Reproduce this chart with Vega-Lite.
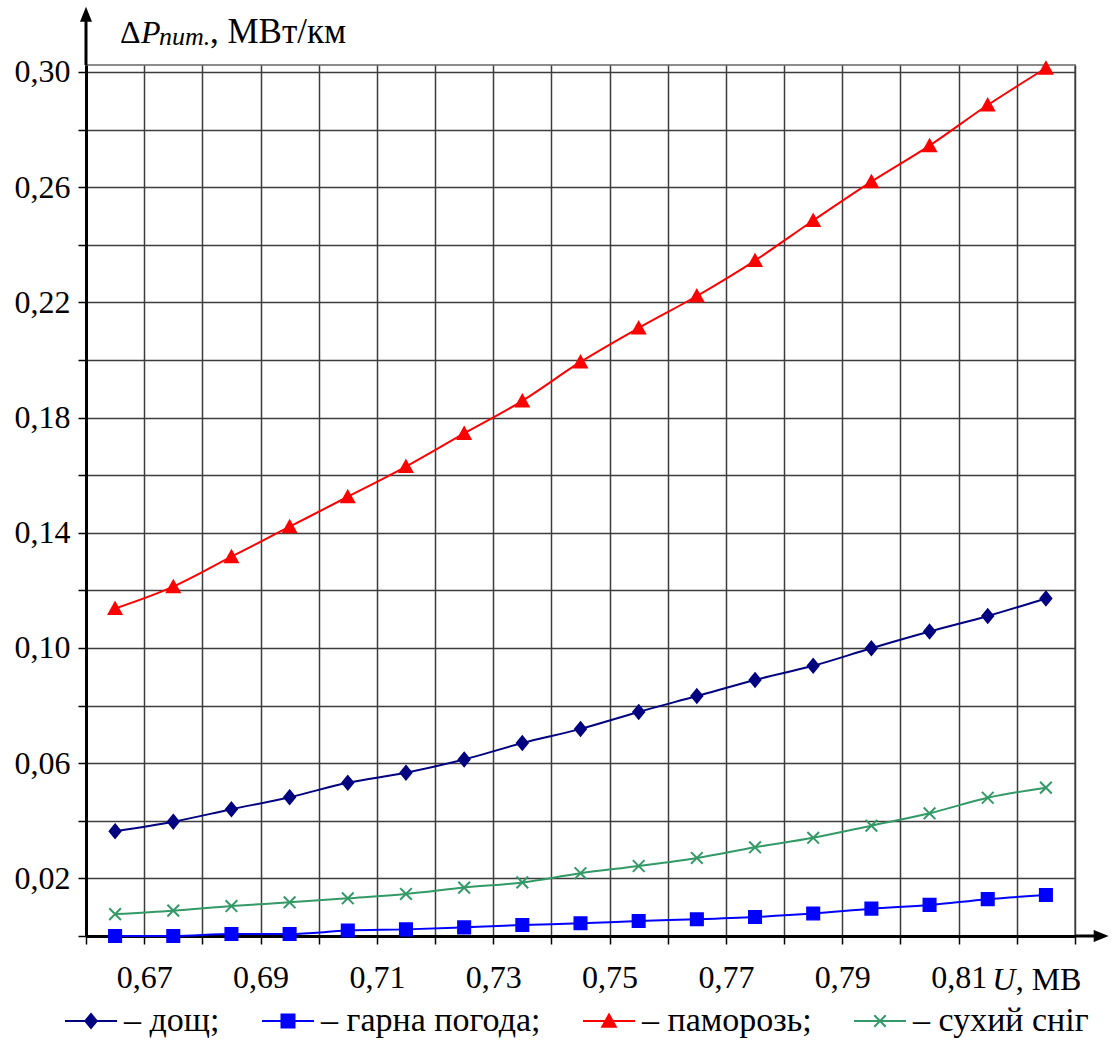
{
  "$schema": "https://vega.github.io/schema/vega-lite/v6.json",
  "width": 989,
  "height": 871,
  "autosize": {"type": "none"},
  "padding": {"left": 86, "top": 65, "right": 38, "bottom": 107},
  "background": "white",
  "config": {
    "view": {"stroke": "#8c8c8c", "strokeWidth": 2},
    "font": "Liberation Serif",
    "axis": {"labelFont": "Liberation Serif", "labelColor": "black"},
    "legend": {"labelFont": "Liberation Serif", "labelColor": "black"}
  },
  "datasets": {
    "series": [
      {"U": 0.665, "P": 0.0364, "series": "дощ"},
      {"U": 0.675, "P": 0.0397, "series": "дощ"},
      {"U": 0.685, "P": 0.0440, "series": "дощ"},
      {"U": 0.695, "P": 0.0482, "series": "дощ"},
      {"U": 0.705, "P": 0.0532, "series": "дощ"},
      {"U": 0.715, "P": 0.0567, "series": "дощ"},
      {"U": 0.725, "P": 0.0613, "series": "дощ"},
      {"U": 0.735, "P": 0.0670, "series": "дощ"},
      {"U": 0.745, "P": 0.0719, "series": "дощ"},
      {"U": 0.755, "P": 0.0778, "series": "дощ"},
      {"U": 0.765, "P": 0.0833, "series": "дощ"},
      {"U": 0.775, "P": 0.0889, "series": "дощ"},
      {"U": 0.785, "P": 0.0938, "series": "дощ"},
      {"U": 0.795, "P": 0.0999, "series": "дощ"},
      {"U": 0.805, "P": 0.1057, "series": "дощ"},
      {"U": 0.815, "P": 0.1111, "series": "дощ"},
      {"U": 0.825, "P": 0.1172, "series": "дощ"},
      {"U": 0.665, "P": 0.0000, "series": "гарна погода"},
      {"U": 0.675, "P": 0.0000, "series": "гарна погода"},
      {"U": 0.685, "P": 0.0007, "series": "гарна погода"},
      {"U": 0.695, "P": 0.0007, "series": "гарна погода"},
      {"U": 0.705, "P": 0.0019, "series": "гарна погода"},
      {"U": 0.715, "P": 0.0023, "series": "гарна погода"},
      {"U": 0.725, "P": 0.0030, "series": "гарна погода"},
      {"U": 0.735, "P": 0.0038, "series": "гарна погода"},
      {"U": 0.745, "P": 0.0044, "series": "гарна погода"},
      {"U": 0.755, "P": 0.0052, "series": "гарна погода"},
      {"U": 0.765, "P": 0.0058, "series": "гарна погода"},
      {"U": 0.775, "P": 0.0066, "series": "гарна погода"},
      {"U": 0.785, "P": 0.0078, "series": "гарна погода"},
      {"U": 0.795, "P": 0.0095, "series": "гарна погода"},
      {"U": 0.805, "P": 0.0108, "series": "гарна погода"},
      {"U": 0.815, "P": 0.0128, "series": "гарна погода"},
      {"U": 0.825, "P": 0.0142, "series": "гарна погода"},
      {"U": 0.665, "P": 0.1137, "series": "паморозь"},
      {"U": 0.675, "P": 0.1213, "series": "паморозь"},
      {"U": 0.685, "P": 0.1317, "series": "паморозь"},
      {"U": 0.695, "P": 0.1421, "series": "паморозь"},
      {"U": 0.705, "P": 0.1525, "series": "паморозь"},
      {"U": 0.715, "P": 0.1630, "series": "паморозь"},
      {"U": 0.725, "P": 0.1745, "series": "паморозь"},
      {"U": 0.735, "P": 0.1858, "series": "паморозь"},
      {"U": 0.745, "P": 0.1993, "series": "паморозь"},
      {"U": 0.755, "P": 0.2111, "series": "паморозь"},
      {"U": 0.765, "P": 0.2222, "series": "паморозь"},
      {"U": 0.775, "P": 0.2345, "series": "паморозь"},
      {"U": 0.785, "P": 0.2484, "series": "паморозь"},
      {"U": 0.795, "P": 0.2619, "series": "паморозь"},
      {"U": 0.805, "P": 0.2744, "series": "паморозь"},
      {"U": 0.815, "P": 0.2885, "series": "паморозь"},
      {"U": 0.825, "P": 0.3013, "series": "паморозь"},
      {"U": 0.665, "P": 0.0076, "series": "сухий сніг"},
      {"U": 0.675, "P": 0.0088, "series": "сухий сніг"},
      {"U": 0.685, "P": 0.0104, "series": "сухий сніг"},
      {"U": 0.695, "P": 0.0117, "series": "сухий сніг"},
      {"U": 0.705, "P": 0.0131, "series": "сухий сніг"},
      {"U": 0.715, "P": 0.0146, "series": "сухий сніг"},
      {"U": 0.725, "P": 0.0168, "series": "сухий сніг"},
      {"U": 0.735, "P": 0.0186, "series": "сухий сніг"},
      {"U": 0.745, "P": 0.0218, "series": "сухий сніг"},
      {"U": 0.755, "P": 0.0243, "series": "сухий сніг"},
      {"U": 0.765, "P": 0.0271, "series": "сухий сніг"},
      {"U": 0.775, "P": 0.0308, "series": "сухий сніг"},
      {"U": 0.785, "P": 0.0341, "series": "сухий сніг"},
      {"U": 0.795, "P": 0.0383, "series": "сухий сніг"},
      {"U": 0.805, "P": 0.0426, "series": "сухий сніг"},
      {"U": 0.815, "P": 0.0480, "series": "сухий сніг"},
      {"U": 0.825, "P": 0.0515, "series": "сухий сніг"}
    ]
  },
  "encoding": {
    "x": {
      "type": "quantitative", "title": null,
      "scale": {"domain": [0.66, 0.83], "nice": false, "zero": false},
      "axis": {
        "values": [0.66, 0.67, 0.68, 0.69, 0.70, 0.71, 0.72, 0.73, 0.74, 0.75, 0.76, 0.77, 0.78, 0.79, 0.80, 0.81, 0.82, 0.83],
        "grid": true,
        "gridColor": "#3c3c3c",
        "gridWidth": 1.5,
        "domainColor": "black", "domainWidth": 3,
        "tickColor": "black", "tickWidth": 1.5, "tickSize": 8,
        "labelExpr": "(round(datum.value*100) % 2 == 1 && datum.value < 0.825) ? replace(format(datum.value, '.2f'), '.', ',') : ''",
        "labelFont": "Liberation Serif", "labelFontSize": 32, "labelPadding": 18, "labelFlush": false, "labelOverlap": false,
        "title": null
      }
    },
    "y": {
      "type": "quantitative", "title": null,
      "scale": {"domain": [0, 0.3024], "nice": false, "zero": false},
      "axis": {
        "values": [0, 0.02, 0.04, 0.06, 0.08, 0.10, 0.12, 0.14, 0.16, 0.18, 0.20, 0.22, 0.24, 0.26, 0.28, 0.30],
        "grid": true, "gridColor": "#3c3c3c", "gridWidth": 1.5,
        "domainColor": "black", "domainWidth": 3,
        "tickColor": "black", "tickWidth": 1.5, "tickSize": 8,
        "labelExpr": "round(datum.value*100) % 4 == 2 ? replace(format(datum.value, '.2f'), '.', ',') : ''",
        "labelFont": "Liberation Serif", "labelFontSize": 32, "labelPadding": 8, "labelFlush": false, "labelOverlap": false,
        "title": null
      }
    }
  },
  "layer": [
    {
      "data": {"name": "series"},
      "mark": {"type": "line", "strokeWidth": 2, "interpolate": "monotone"},
      "encoding": {
        "x": {"field": "U"},
        "y": {"field": "P"},
        "color": {
          "field": "series", "type": "nominal",
          "scale": {"domain": ["дощ", "гарна погода", "паморозь", "сухий сніг"], "range": ["#000080", "#0000ff", "#ff0000", "#339966"]},
          "legend": {
            "orient": "none", "legendX": -22, "legendY": 929,
            "direction": "horizontal", "columns": 4, "title": null, "padding": 0,
            "labelFont": "Liberation Serif", "labelFontSize": 34, "labelColor": "black", "labelLimit": 500,
            "labelOffset": 6, "columnPadding": 38,
            "symbolSize": 2704, "symbolStrokeWidth": 2,
            "labelExpr": "datum.label == 'сухий сніг' ? '– сухий сніг' : '– ' + datum.label + ';'",
            "encode": {
              "symbols": {
                "update": {
                  "shape": {"signal": "datum.value == 'дощ' ? 'M-1,0H1M0,-0.27L0.22,0L0,0.27L-0.22,0Z' : datum.value == 'гарна погода' ? 'M-1,0H1M-0.25,-0.25H0.25V0.25H-0.25Z' : datum.value == 'паморозь' ? 'M-1,0H1M0,-0.25L0.26,0.22L-0.26,0.22Z' : 'M-1,0H1M-0.22,-0.22L0.22,0.22M-0.22,0.22L0.22,-0.22'"},
                  "fill": {"signal": "datum.value == 'дощ' ? '#000080' : datum.value == 'гарна погода' ? '#0000ff' : datum.value == 'паморозь' ? '#ff0000' : '#339966'"},
                  "stroke": {"signal": "datum.value == 'дощ' ? '#000080' : datum.value == 'гарна погода' ? '#0000ff' : datum.value == 'паморозь' ? '#ff0000' : '#339966'"},
                  "strokeWidth": {"value": 2},
                  "size": {"value": 2704},
                  "opacity": {"value": 1}
                }
              }
            }
          }
        }
      }
    },
    {
      "data": {"name": "series"},
      "transform": [{"filter": "datum.series == 'дощ'"}],
      "mark": {"type": "point", "shape": "M0,-1.1L0.9,0L0,1.1L-0.9,0Z", "filled": true, "color": "#000080", "stroke": "#000080", "size": 169, "strokeWidth": 1.4, "opacity": 1},
      "encoding": {"x": {"field": "U"}, "y": {"field": "P"}}
    },
    {
      "data": {"name": "series"},
      "transform": [{"filter": "datum.series == 'гарна погода'"}],
      "mark": {"type": "point", "shape": "M-1,-1H1V1H-1Z", "filled": true, "color": "#0000ff", "stroke": "#0000ff", "size": 160, "strokeWidth": 1.4, "opacity": 1},
      "encoding": {"x": {"field": "U"}, "y": {"field": "P"}}
    },
    {
      "data": {"name": "series"},
      "transform": [{"filter": "datum.series == 'паморозь'"}],
      "mark": {"type": "point", "shape": "M0,-1L1.05,0.9L-1.05,0.9Z", "filled": true, "color": "#ff0000", "stroke": "#ff0000", "size": 169, "strokeWidth": 1.4, "opacity": 1},
      "encoding": {"x": {"field": "U"}, "y": {"field": "P"}}
    },
    {
      "data": {"name": "series"},
      "transform": [{"filter": "datum.series == 'сухий сніг'"}],
      "mark": {"type": "point", "shape": "M-0.9,-0.9L0.9,0.9M-0.9,0.9L0.9,-0.9", "filled": true, "color": "#339966", "stroke": "#339966", "size": 169, "strokeWidth": 2, "opacity": 1},
      "encoding": {"x": {"field": "U"}, "y": {"field": "P"}}
    },
    {
      "data": {"values": [{}]},
      "mark": {"type": "rule", "color": "black", "strokeWidth": 3, "clip": false},
      "encoding": {
        "x": {"datum": 0.66},
        "y": {"datum": 0.3024},
        "y2": {"datum": 0.318}
      }
    },
    {
      "data": {"values": [{}]},
      "mark": {"type": "rule", "color": "black", "strokeWidth": 3, "clip": false},
      "encoding": {
        "x": {"datum": 0.83},
        "x2": {"datum": 0.8336},
        "y": {"datum": 0}
      }
    },
    {
      "data": {"values": [{}]},
      "mark": {"type": "point", "shape": "M0,-1L0.8,1L-0.8,1Z", "size": 225, "filled": true, "color": "black", "opacity": 1, "clip": false},
      "encoding": {
        "x": {"datum": 0.66},
        "y": {"datum": 0.32}
      }
    },
    {
      "data": {"values": [{}]},
      "mark": {"type": "point", "shape": "M1,0L-1,0.8L-1,-0.8Z", "size": 225, "filled": true, "color": "black", "opacity": 1, "clip": false},
      "encoding": {
        "x": {"datum": 0.8345},
        "y": {"datum": 0}
      }
    },
    {
      "data": {"values": [{}]},
      "mark": {"type": "text", "align": "left", "baseline": "alphabetic", "font": "Liberation Serif", "fontSize": 32, "color": "black", "clip": false},
      "encoding": {
        "x": {"datum": 0.66584},
        "y": {"datum": 0.31007},
        "text": {"value": "Δ"}
      }
    },
    {
      "data": {"values": [{}]},
      "mark": {"type": "text", "align": "left", "baseline": "alphabetic", "font": "Liberation Serif", "fontSize": 32, "fontStyle": "italic", "color": "black", "clip": false},
      "encoding": {
        "x": {"datum": 0.66945},
        "y": {"datum": 0.31007},
        "text": {"value": "P"}
      }
    },
    {
      "data": {"values": [{}]},
      "mark": {"type": "text", "align": "left", "baseline": "alphabetic", "font": "Liberation Serif", "fontSize": 26, "fontStyle": "italic", "color": "black", "clip": false},
      "encoding": {
        "x": {"datum": 0.67255},
        "y": {"datum": 0.3094},
        "text": {"value": "num."}
      }
    },
    {
      "data": {"values": [{}]},
      "mark": {"type": "text", "align": "left", "baseline": "alphabetic", "font": "Liberation Serif", "fontSize": 35, "color": "black", "clip": false},
      "encoding": {
        "x": {"datum": 0.68131},
        "y": {"datum": 0.31007},
        "text": {"value": ", МВт/км"}
      }
    },
    {
      "data": {"values": [{}]},
      "mark": {"type": "text", "align": "left", "baseline": "alphabetic", "font": "Liberation Serif", "fontSize": 32, "fontStyle": "italic", "color": "black", "clip": false},
      "encoding": {
        "x": {"datum": 0.81576},
        "y": {"datum": -0.01875},
        "text": {"value": "U"}
      }
    },
    {
      "data": {"values": [{}]},
      "mark": {"type": "text", "align": "left", "baseline": "alphabetic", "font": "Liberation Serif", "fontSize": 32, "color": "black", "clip": false},
      "encoding": {
        "x": {"datum": 0.81980},
        "y": {"datum": -0.01875},
        "text": {"value": ", МВ"}
      }
    }
  ]
}
